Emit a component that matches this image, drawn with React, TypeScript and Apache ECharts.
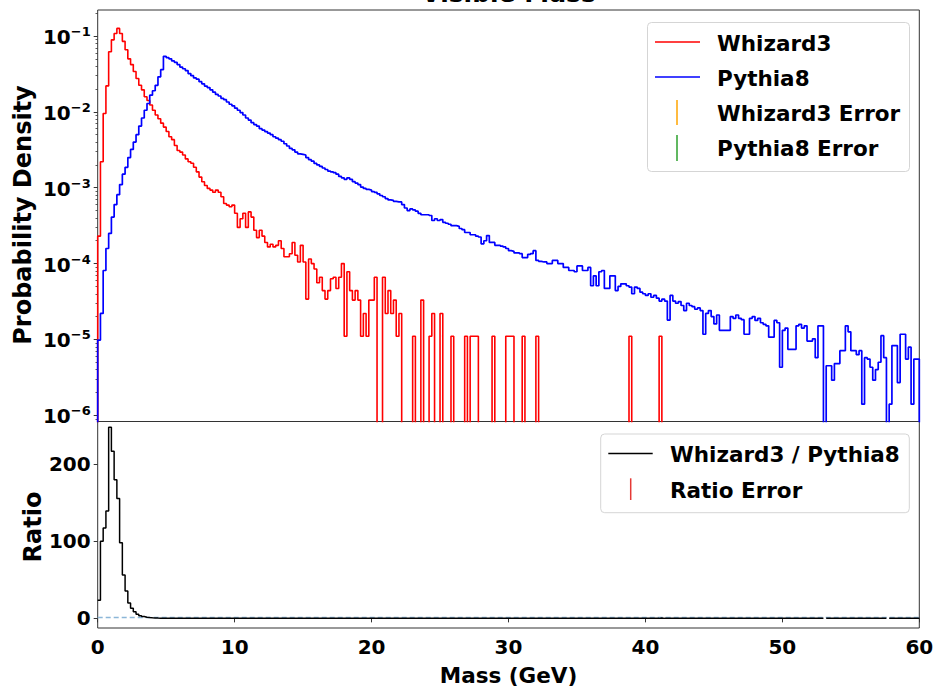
import { useEffect, useRef } from "react";
import * as echarts from "echarts";

// ---------- data ----------
const BIN_WIDTH = 0.2;
const X_MIN = 0;
const X_MAX = 60;
const binEdges: number[] = Array.from({ length: 301 }, (_, i) => Math.round(i * BIN_WIDTH * 10) / 10);

// Whizard3 probability density per 0.2 GeV bin
const whizard3: number[] = [
  2.3e-4, 2.2e-3, 9.5e-3, 2.2e-2, 6.2e-2, 8.9e-2, 0.108, 0.126, 0.108, 8.5e-2,
  6.6e-2, 5.0e-2, 4.2e-2, 3.4e-2, 2.75e-2, 2.24e-2, 1.95e-2, 1.58e-2, 1.41e-2, 1.23e-2,
  1.05e-2, 9.1e-3, 8.1e-3, 7.1e-3, 6.3e-3, 5.5e-3, 4.7e-3, 4.3e-3, 3.6e-3, 3.1e-3,
  2.95e-3, 2.7e-3, 2.4e-3, 2.2e-3, 2.1e-3, 1.86e-3, 1.62e-3, 1.38e-3, 1.2e-3, 1.07e-3,
  9.8e-4, 9.3e-4, 8.7e-4, 9.3e-4, 8.7e-4, 7.6e-4, 6.2e-4, 5.9e-4, 5.6e-4, 5.9e-4,
  4.6e-4, 3.0e-4, 3.9e-4, 4.6e-4, 3.0e-4, 4.8e-4, 4.1e-4, 2.75e-4, 2.2e-4, 2.75e-4,
  2.3e-4, 1.9e-4, 1.66e-4, 1.8e-4, 1.66e-4, 1.74e-4, 2.0e-4, 1.58e-4, 1.23e-4, 1.23e-4,
  1.35e-4, 1.9e-4, 1.29e-4, 1.05e-4, 1.74e-4, 1.05e-4, 3.4e-5, 1.15e-4, 1.0e-4, 8.5e-5,
  5.6e-5, 6.6e-5, 4.4e-5, 3.4e-5, 4.4e-5, 6.3e-5, 6.6e-5, 4.7e-5, 6.6e-5, 1.0e-4,
  1.1e-5, 7.8e-5, 4.4e-5, 3.3e-5, 4.4e-5, 3.3e-5, 1.1e-5, 2.2e-5, 1.1e-5, 3.3e-5,
  3.3e-5, 6.6e-5, 0, 0, 6.6e-5, 2.2e-5, 4.4e-5, 2.2e-5, 3.3e-5, 1.1e-5,
  2.2e-5, 0, 0, 0, 0, 1.1e-5, 0, 0, 3.3e-5, 0,
  0, 1.1e-5, 2.2e-5, 0, 0, 2.2e-5, 0, 0, 0, 1.1e-5,
  0, 0, 0, 0, 1.1e-5, 0, 1.1e-5, 1.1e-5, 1.1e-5, 0,
  0, 0, 0, 0, 1.1e-5, 0, 0, 0, 0, 1.1e-5,
  1.1e-5, 1.1e-5, 0, 0, 0, 1.1e-5, 0, 0, 0, 0,
  1.1e-5, 0, 0, 0, 0, 0, 0, 0, 0, 0,
  0, 0, 0, 0, 0, 0, 0, 0, 0, 0,
  0, 0, 0, 0, 0, 0, 0, 0, 0, 0,
  0, 0, 0, 0, 1.1e-5, 0, 0, 0, 0, 0,
  0, 0, 0, 0, 0, 1.1e-5, 0, 0, 0, 0,
  0, 0, 0, 0, 0, 0, 0, 0, 0, 0,
  0, 0, 0, 0, 0, 0, 0, 0, 0, 0,
  0, 0, 0, 0, 0, 0, 0, 0, 0, 0,
  0, 0, 0, 0, 0, 0, 0, 0, 0, 0,
  0, 0, 0, 0, 0, 0, 0, 0, 0, 0,
  0, 0, 0, 0, 0, 0, 0, 0, 0, 0,
  0, 0, 0, 0, 0, 0, 0, 0, 0, 0,
  0, 0, 0, 0, 0, 0, 0, 0, 0, 0,
  0, 0, 0, 0, 0, 0, 0, 0, 0, 0,
];

// Pythia8 probability density per 0.2 GeV bin
const pythia8: number[] = [
  9.8e-6, 2.2e-5, 8.1e-5, 1.58e-4, 2.5e-4, 4.1e-4, 6.0e-4, 8.1e-4, 1.1e-3, 1.51e-3,
  1.86e-3, 2.5e-3, 3.2e-3, 4.0e-3, 5.0e-3, 6.5e-3, 8.3e-3, 1.05e-2, 1.29e-2, 1.66e-2,
  1.9e-2, 2.24e-2, 2.9e-2, 3.6e-2, 5.4e-2, 5.2e-2, 5.0e-2, 4.7e-2, 4.5e-2, 4.2e-2,
  3.9e-2, 3.7e-2, 3.5e-2, 3.2e-2, 3.0e-2, 2.8e-2, 2.7e-2, 2.5e-2, 2.34e-2, 2.19e-2,
  2.09e-2, 1.95e-2, 1.82e-2, 1.70e-2, 1.62e-2, 1.51e-2, 1.45e-2, 1.35e-2, 1.26e-2, 1.20e-2,
  1.12e-2, 1.05e-2, 9.8e-3, 9.1e-3, 8.3e-3, 7.8e-3, 7.2e-3, 6.8e-3, 6.5e-3, 6.0e-3,
  5.75e-3, 5.5e-3, 5.25e-3, 5.0e-3, 4.7e-3, 4.5e-3, 4.3e-3, 4.1e-3, 3.8e-3, 3.55e-3,
  3.3e-3, 3.16e-3, 2.95e-3, 2.8e-3, 2.75e-3, 2.7e-3, 2.5e-3, 2.34e-3, 2.24e-3, 2.09e-3,
  2.0e-3, 1.91e-3, 1.82e-3, 1.74e-3, 1.66e-3, 1.62e-3, 1.58e-3, 1.51e-3, 1.41e-3, 1.35e-3,
  1.29e-3, 1.35e-3, 1.29e-3, 1.2e-3, 1.15e-3, 1.1e-3, 1.02e-3, 9.8e-4, 9.5e-4, 9.3e-4,
  8.9e-4, 8.7e-4, 8.3e-4, 7.9e-4, 7.6e-4, 7.2e-4, 6.9e-4, 6.8e-4, 6.6e-4, 6.5e-4,
  6.5e-4, 6.0e-4, 5.4e-4, 5.0e-4, 5.25e-4, 5.1e-4, 4.9e-4, 4.6e-4, 4.4e-4, 4.4e-4,
  4.4e-4, 4.3e-4, 3.7e-4, 3.9e-4, 3.7e-4, 3.8e-4, 3.5e-4, 3.4e-4, 3.3e-4, 3.16e-4,
  3.16e-4, 3.1e-4, 2.9e-4, 2.8e-4, 2.57e-4, 2.57e-4, 2.4e-4, 2.4e-4, 2.3e-4, 2.24e-4,
  1.82e-4, 2.0e-4, 2.34e-4, 1.9e-4, 1.9e-4, 1.74e-4, 1.74e-4, 1.7e-4, 1.66e-4, 1.58e-4,
  1.48e-4, 1.45e-4, 1.38e-4, 1.38e-4, 1.35e-4, 1.2e-4, 1.2e-4, 1.32e-4, 1.35e-4, 1.48e-4,
  1.1e-4, 1.07e-4, 1.05e-4, 1.05e-4, 1.0e-4, 1.0e-4, 1.1e-4, 1.1e-4, 1.0e-4, 1.0e-4,
  8.9e-5, 8.9e-5, 8.1e-5, 8.1e-5, 7.8e-5, 9.3e-5, 9.3e-5, 8.1e-5, 8.1e-5, 8.9e-5,
  5.1e-5, 6.9e-5, 5.1e-5, 7.8e-5, 8.1e-5, 4.7e-5, 4.7e-5, 6.9e-5, 6.9e-5, 4.4e-5,
  5.0e-5, 5.4e-5, 5.4e-5, 5.1e-5, 4.9e-5, 4.0e-5, 4.9e-5, 4.7e-5, 4.2e-5, 4.0e-5,
  3.8e-5, 4.0e-5, 3.6e-5, 3.8e-5, 3.5e-5, 3.2e-5, 3.4e-5, 3.2e-5, 1.8e-5, 3.8e-5,
  3.2e-5, 3.0e-5, 3.16e-5, 2.8e-5, 2.4e-5, 3.0e-5, 2.8e-5, 2.7e-5, 2.5e-5, 2.6e-5,
  2.4e-5, 1.17e-5, 2.2e-5, 2.4e-5, 2.0e-5, 1.6e-5, 2.1e-5, 1.32e-5, 1.32e-5, 1.32e-5,
  1.32e-5, 2.0e-5, 1.9e-5, 2.1e-5, 1.9e-5, 1.82e-5, 1.17e-5, 1.17e-5, 1.9e-5, 2.0e-5,
  1.78e-5, 1.9e-5, 1.66e-5, 1.58e-5, 1.51e-5, 1.07e-5, 1.07e-5, 1.78e-5, 1.66e-5, 4.3e-6,
  1.32e-5, 1.41e-5, 7.4e-6, 7.4e-6, 7.4e-6, 1.51e-5, 1.58e-5, 1.41e-5, 1.51e-5, 9.5e-6,
  9.5e-6, 1.02e-5, 5.75e-6, 1.51e-5, 1.51e-5, 0, 4.5e-6, 4.5e-6, 2.9e-6, 4.8e-6,
  4.8e-6, 7.1e-6, 7.1e-6, 1.51e-5, 1.26e-5, 7.1e-6, 7.1e-6, 6.3e-6, 7.1e-6, 1.4e-6,
  5.75e-6, 5.5e-6, 4.3e-6, 2.9e-6, 4.0e-6, 5.0e-6, 1.12e-5, 5.75e-6, 0, 1.4e-6,
  8.3e-6, 8.3e-6, 2.7e-6, 1.17e-5, 1.17e-5, 5.5e-6, 7.9e-6, 1.4e-6, 5.5e-6, 5.5e-6,
];

// Whizard3 / Pythia8 (empty where Pythia8 has no entries)
const ratio: (number | null)[] = whizard3.map((w, i) => (pythia8[i] > 0 ? w / pythia8[i] : null));

const logTickExponents = [-6, -5, -4, -3, -2, -1];
const ratioTicks = [0, 100, 200];
const xTicks = [0, 10, 20, 30, 40, 50, 60];

// ---------- layout ----------
const LOG_MIN = -6.082;
const LOG_MAX = -0.657;
const RATIO_MIN = -12.5;
const RATIO_MAX = 255.6;
const LOW = -9;
const FONT = "'DejaVu Sans', sans-serif";

const minorLogTicks: number[] = [];
for (let n = -7; n <= -1; n++) {
  for (let k = 2; k <= 9; k++) {
    const v = n + Math.log10(k);
    if (v > LOG_MIN && v < LOG_MAX) minorLogTicks.push(v);
  }
}

function histPoints(vals: number[]) {
  const pts: (number | null)[][] = [[X_MIN, LOW]];
  vals.forEach((v, i) => {
    const y = v > 0 ? Math.log10(v) : LOW;
    pts.push([binEdges[i], y]);
    pts.push([binEdges[i + 1], y]);
  });
  pts.push([X_MAX, LOW]);
  return pts;
}

function ratioPoints(vals: (number | null)[]) {
  const pts: any[] = [];
  vals.forEach((v, i) => {
    if (v === null || !isFinite(v)) {
      pts.push([binEdges[i], "-"]);
    } else {
      pts.push([binEdges[i], v]);
      pts.push([binEdges[i + 1], v]);
    }
  });
  return pts;
}

export default function App() {
  const ref = useRef<HTMLDivElement>(null);
  useEffect(() => {
    if (!ref.current) return;
    const chart = echarts.init(ref.current, undefined, { renderer: "svg" });
    const gridL = 97.7;
    const gridW = 821.6;
    const tickStyle = { color: "#333", width: 1 };
    const labelBase = { fontFamily: FONT, fontWeight: "bold" as const, color: "#000" };
    const option: any = {
      animation: false,
      backgroundColor: "#fff",
      textStyle: { fontFamily: FONT },
      grid: [
        { left: gridL, top: 10, width: gridW, height: 411.5, show: true, borderColor: "#333", borderWidth: 1, backgroundColor: "transparent" },
        { left: gridL, top: 421.5, width: gridW, height: 206.5, show: true, borderColor: "#333", borderWidth: 1, backgroundColor: "transparent" },
      ],
      xAxis: [
        {
          type: "value", gridIndex: 0, min: X_MIN, max: X_MAX, interval: 10,
          axisLine: { show: false }, axisTick: { show: false }, axisLabel: { show: false }, splitLine: { show: false },
        },
        {
          type: "value", gridIndex: 1, min: X_MIN, max: X_MAX, interval: 10,
          axisLine: { show: false },
          axisTick: { show: true, length: 4, lineStyle: tickStyle },
          axisLabel: { ...labelBase, fontSize: 20, margin: 9, customValues: xTicks },
          splitLine: { show: false },
        },
      ],
      yAxis: [
        {
          type: "value", gridIndex: 0, min: LOG_MIN, max: LOG_MAX, position: "left",
          axisLine: { show: false },
          axisTick: { show: true, length: 4, lineStyle: tickStyle, customValues: logTickExponents },
          axisLabel: {
            ...labelBase,
            margin: 7,
            customValues: logTickExponents,
            formatter: (v: number) => `{b|10}{s|\u2212${Math.round(-v)}}`,
            rich: {
              b: { fontFamily: FONT, fontWeight: "bold", fontSize: 20, lineHeight: 22, verticalAlign: "bottom", color: "#000" },
              s: { fontFamily: FONT, fontWeight: "bold", fontSize: 13, lineHeight: 13, verticalAlign: "top", color: "#000" },
            },
          },
          splitLine: { show: false },
        },
        {
          type: "value", gridIndex: 0, min: LOG_MIN, max: LOG_MAX, position: "left", offset: 0,
          axisLine: { show: false },
          axisTick: { show: true, length: 2.2, lineStyle: { color: "#333", width: 0.8 }, customValues: minorLogTicks },
          axisLabel: { show: false },
          splitLine: { show: false },
        },
        {
          type: "value", gridIndex: 1, min: RATIO_MIN, max: RATIO_MAX, position: "left",
          axisLine: { show: false },
          axisTick: { show: true, length: 4, lineStyle: tickStyle, customValues: ratioTicks },
          axisLabel: { ...labelBase, fontSize: 20, margin: 7, customValues: ratioTicks },
          splitLine: { show: false },
        },
      ],
      series: [
        {
          name: "Whizard3", type: "line", xAxisIndex: 0, yAxisIndex: 0, data: histPoints(whizard3),
          symbol: "none", clip: true, lineStyle: { color: "#ff0000", width: 1.6 }, itemStyle: { color: "#ff0000" }, z: 3,
        },
        {
          name: "Pythia8", type: "line", xAxisIndex: 0, yAxisIndex: 0, data: histPoints(pythia8),
          symbol: "none", clip: true, lineStyle: { color: "#0000ff", width: 1.7 }, itemStyle: { color: "#0000ff" }, z: 4,
        },
        {
          name: "Ratio = 1", type: "line", xAxisIndex: 1, yAxisIndex: 2, data: [[X_MIN, 1], [X_MAX, 1]],
          symbol: "none", clip: true, lineStyle: { color: "#8cb6d8", width: 1.5, type: [5, 3] }, z: 2,
        },
        {
          name: "Whizard3 / Pythia8", type: "line", xAxisIndex: 1, yAxisIndex: 2, data: ratioPoints(ratio),
          symbol: "none", clip: true, connectNulls: false, lineStyle: { color: "#000", width: 1.5 }, itemStyle: { color: "#000" }, z: 3,
        },
      ],
      graphic: [
        { type: "text", x: 508.5, y: -7, z: 100, style: { text: "Visible Mass", fontFamily: FONT, fontWeight: "bold", fontSize: 25, fill: "#000", align: "center", verticalAlign: "middle", textAlign: "center", textVerticalAlign: "middle" } },
        { type: "text", x: 22.5, y: 215, rotation: Math.PI / 2, z: 100, style: { text: "Probability Density", fontFamily: FONT, fontWeight: "bold", fontSize: 24, fill: "#000", align: "center", verticalAlign: "middle", textAlign: "center", textVerticalAlign: "middle" } },
        { type: "text", x: 32.5, y: 527, rotation: Math.PI / 2, z: 100, style: { text: "Ratio", fontFamily: FONT, fontWeight: "bold", fontSize: 24, fill: "#000", align: "center", verticalAlign: "middle", textAlign: "center", textVerticalAlign: "middle" } },
        { type: "text", x: 508.5, y: 675, z: 100, style: { text: "Mass (GeV)", fontFamily: FONT, fontWeight: "bold", fontSize: 21.5, fill: "#000", align: "center", verticalAlign: "middle", textAlign: "center", textVerticalAlign: "middle" } },
        // top legend
        { type: "rect", z: 100, shape: { x: 647.5, y: 22.5, width: 262, height: 149, r: 4 }, style: { fill: "rgba(255,255,255,0.85)", stroke: "#d5d5d5", lineWidth: 1 } },
        { type: "line", z: 101, shape: { x1: 655, y1: 42, x2: 700, y2: 42 }, style: { stroke: "#ff0000", lineWidth: 1.6 } },
        { type: "line", z: 101, shape: { x1: 655, y1: 77, x2: 700, y2: 77 }, style: { stroke: "#0000ff", lineWidth: 1.7 } },
        { type: "line", z: 101, shape: { x1: 677, y1: 100, x2: 677, y2: 125 }, style: { stroke: "#ffa500", lineWidth: 1.5 } },
        { type: "line", z: 101, shape: { x1: 677, y1: 135, x2: 677, y2: 161 }, style: { stroke: "#2ca02c", lineWidth: 1.5 } },
        ...[["Whizard3", 43], ["Pythia8", 78], ["Whizard3 Error", 113], ["Pythia8 Error", 148]].map(([t, y]) => ({
          type: "text", x: 717, y, z: 101,
          style: { text: t, fontFamily: FONT, fontWeight: "bold", fontSize: 21.5, fill: "#000", align: "left", verticalAlign: "middle", textAlign: "left", textVerticalAlign: "middle" },
        })),
        // bottom legend
        { type: "rect", z: 100, shape: { x: 600.7, y: 434, width: 308.6, height: 78.7, r: 4 }, style: { fill: "rgba(255,255,255,0.85)", stroke: "#d5d5d5", lineWidth: 1 } },
        { type: "line", z: 101, shape: { x1: 608.3, y1: 453.5, x2: 652.7, y2: 453.5 }, style: { stroke: "#000", lineWidth: 1.5 } },
        { type: "line", z: 101, shape: { x1: 630.7, y1: 478.3, x2: 630.7, y2: 500 }, style: { stroke: "#e53935", lineWidth: 1.5 } },
        ...[["Whizard3 / Pythia8", 454.5], ["Ratio Error", 490.5]].map(([t, y]) => ({
          type: "text", x: 670, y, z: 101,
          style: { text: t, fontFamily: FONT, fontWeight: "bold", fontSize: 21.5, fill: "#000", align: "left", verticalAlign: "middle", textAlign: "left", textVerticalAlign: "middle" },
        })),
      ],
    };
    chart.setOption(option);
    return () => chart.dispose();
  }, []);
  return <div ref={ref} style={{ position: "absolute", left: 0, top: 0, width: 939, height: 687 }} />;
}
